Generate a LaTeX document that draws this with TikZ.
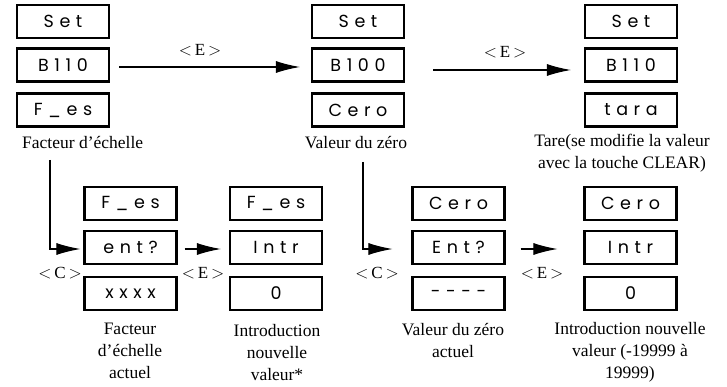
\documentclass[tikz,border=0pt]{standalone}
\usepackage{fontspec}
\setmainfont{Liberation Serif}
\newfontfamily\lcdfont[LetterSpace=32]{Poppins}
\usetikzlibrary{arrows.meta}

\begin{document}
\begin{tikzpicture}[x=1pt,y=-1pt,
  disp/.style={draw, line width=2.2pt, minimum width=92pt, minimum height=33pt,
    inner sep=0pt, font=\lcdfont\fontsize{17.5}{20}\selectfont},
  lbl/.style={font=\fontsize{17.5}{22}\selectfont, align=center, inner sep=0pt},
  keylbl/.style={font=\fontsize{17}{20}\selectfont, inner sep=0pt},
  conn/.style={line width=1.1pt, -{Latex[length=24pt,width=12pt]}}]
\useasboundingbox (0,0) rectangle (727,387);

% top row: menu entries
\node[disp] (s1) at (63,21.5) {Set};
\node[disp] (b1) at (63,65) {B110};
\node[disp] (f1) at (63,110) {F\_es};
\node[disp] (s2) at (358,21.5) {Set};
\node[disp] (b2) at (358,65) {B100};
\node[disp] (c2) at (358,110) {Cero};
\node[disp] (s3) at (631,21.5) {Set};
\node[disp] (b3) at (631,65) {B110};
\node[disp] (t3) at (631,110) {tara};

\node[lbl, anchor=west] (lf1) at (22,143) {Facteur d’échelle};
\node[lbl] (lc2) at (356,143) {Valeur du zéro};
\node[lbl] (lt3) at (622,153) {Tare(se modifie la valeur\\avec la touche CLEAR)};

% bottom row: sub-menus
\node[disp] (fa) at (130.5,203.5) {F\_es};
\node[disp] (ea) at (130.5,247.5) {ent?};
\node[disp] (xa) at (130.5,293.5) {xxxx};
\node[disp] (fb) at (276,203.5) {F\_es};
\node[disp] (ib) at (276,247.5) {Intr};
\node[disp] (zb) at (276,293.5) {0};
\node[disp] (cc) at (458.5,203.5) {Cero};
\node[disp] (ec) at (458.5,247.5) {Ent?};
\node[disp] (dc) at (458.5,293.5) {----};
\node[disp] (cd) at (630.5,203.5) {Cero};
\node[disp] (id) at (630.5,247.5) {Intr};
\node[disp] (zd) at (630.5,293.5) {0};

\node[lbl] (la) at (130,351) {Facteur\\d’échelle\\actuel};
\node[lbl] (lb) at (277,353) {Introduction\\nouvelle\\valeur*};
\node[lbl] (lc) at (453,340) {Valeur du zéro\\actuel};
\node[lbl] (ld) at (630,352) {Introduction nouvelle\\valeur (-19999 à\\19999)};

% key labels
\node[keylbl] (k1) at (200,50) {$<$\,E\,$>$};
\node[keylbl] (k2) at (505,52) {$<$\,E\,$>$};
\node[keylbl] (k3) at (60,273) {$<$\,C\,$>$};
\node[keylbl] (k4) at (203,273) {$<$\,E\,$>$};
\node[keylbl] (k5) at (377,273) {$<$\,C\,$>$};
\node[keylbl] (k6) at (542,273) {$<$\,E\,$>$};

% connectors
\coordinate (p1) at (50,160);
\coordinate (p2) at (363,162);
\draw[conn] ([xshift=9pt,yshift=-2pt]b1.east) -- ([xshift=-11pt,yshift=-2pt]b2.west);
\draw[conn] ([xshift=28pt,yshift=-5pt]b2.east) -- ([xshift=-13pt,yshift=-5pt]b3.west);
\draw[conn] (p1) |- ([xshift=-3pt,yshift=-1.5pt]ea.west);
\draw[conn] ([xshift=7pt,yshift=-1.5pt]ea.east) -- ([xshift=-8pt,yshift=-1.5pt]ib.west);
\draw[conn] (p2) |- ([xshift=-19pt,yshift=-1.5pt]ec.west);
\draw[conn] ([xshift=15pt,yshift=-1.5pt]ec.east) -- ([xshift=-26pt,yshift=-1.5pt]id.west);
\end{tikzpicture}
\end{document}
